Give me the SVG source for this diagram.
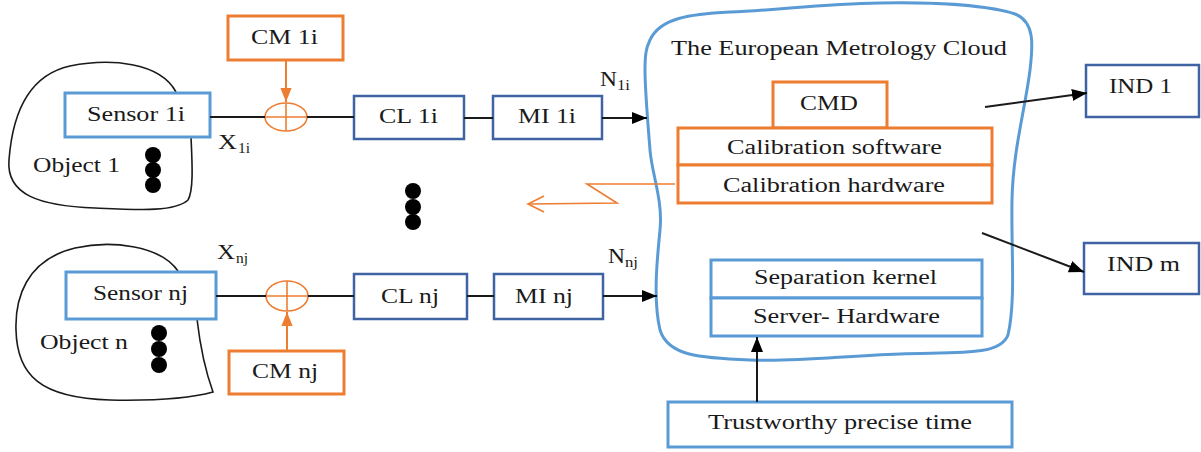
<svg xmlns="http://www.w3.org/2000/svg" width="1201" height="452" viewBox="0 0 1201 452">
<style>
.t{font-family:"Liberation Serif","Times New Roman",serif;font-size:20px;fill:#1a1a1a}
.s{font-family:"Liberation Serif","Times New Roman",serif;font-size:14px;fill:#1a1a1a}
.lb{fill:#fff;stroke:#5B9BD5;stroke-width:3}
.db{fill:#fff;stroke:#3F63A3;stroke-width:2.5}
.or{fill:#fff;stroke:#ED7D31;stroke-width:3}
.blob{fill:none;stroke:#1a1a1a;stroke-width:1.6}
.ln{fill:none;stroke:#1a1a1a;stroke-width:2}
.ol{fill:none;stroke:#ED7D31;stroke-width:1.6}
</style>
<defs>
<marker id="abk" viewBox="0 0 10 10" refX="10" refY="5" markerWidth="15" markerHeight="15" orient="auto" markerUnits="userSpaceOnUse">
<path d="M0,1 L10,5 L0,9 Z" fill="#000"/>
</marker>
<marker id="ao" viewBox="0 0 10 10" refX="10" refY="5" markerWidth="14" markerHeight="14" orient="auto" markerUnits="userSpaceOnUse">
<path d="M0,1 L10,5 L0,9 Z" fill="#ED7D31"/>
</marker>
</defs>

<g id="object1">
<path class="blob" d="M176,92 C160,62 110,58 70,66 C25,76 12,120 9,160 C6,195 40,206 95,208 C140,210 175,212 188,200 C194,190 192,160 191,137"/>
<text class="t" x="33" y="172" textLength="87" lengthAdjust="spacingAndGlyphs">Object 1</text>
<circle cx="153" cy="155" r="8" fill="#000"/>
<circle cx="153" cy="170" r="8" fill="#000"/>
<circle cx="153" cy="185" r="8" fill="#000"/>
</g>
<g id="objectn">
<path class="blob" d="M178,271 C160,245 110,240 75,248 C25,260 15,300 16,330 C17,375 40,398 110,400 C160,401 195,397 213,392 C205,370 200,345 197,319"/>
<text class="t" x="40" y="349" textLength="88" lengthAdjust="spacingAndGlyphs">Object n</text>
<circle cx="159" cy="333" r="8" fill="#000"/>
<circle cx="159" cy="349" r="8" fill="#000"/>
<circle cx="159" cy="365" r="8" fill="#000"/>
</g>

<g id="cloud">
<path fill="none" stroke="#5B9BD5" stroke-width="3" d="M650,40 C660,18 690,14 730,12 C780,10 820,4 880,3 C940,2 990,6 1015,14 C1035,22 1033,45 1030,70 C1025,110 1013,150 1012,200 C1011,250 1016,300 1008,335 C1000,356 960,352 900,354 C840,356 800,362 750,360 C700,358 668,356 660,330 C653,300 657,260 660,230 C663,200 652,175 650,150 C648,125 645,90 645,70 C645,55 646,48 650,40 Z"/>
<text class="t" x="671" y="55" textLength="336" lengthAdjust="spacingAndGlyphs">The European Metrology Cloud</text>
</g>

<g id="sensor1i"><rect class="lb" x="65" y="93" width="145" height="44"/><text class="t" x="87" y="121" textLength="98" lengthAdjust="spacingAndGlyphs">Sensor 1i</text></g>
<g id="cm1i"><rect class="or" x="228" y="16" width="115" height="44"/><text class="t" x="251" y="44" textLength="67" lengthAdjust="spacingAndGlyphs">CM 1i</text></g>
<g id="sum1"><ellipse class="ol" cx="286" cy="117" rx="21" ry="14"/><path class="ol" d="M265,117 H307 M286,103 V131"/></g>
<g id="cl1i"><rect class="db" x="354" y="96" width="110" height="43"/><text class="t" x="379" y="123" textLength="59" lengthAdjust="spacingAndGlyphs">CL 1i</text></g>
<g id="mi1i"><rect class="db" x="493" y="96" width="109" height="43"/><text class="t" x="518" y="123" textLength="58" lengthAdjust="spacingAndGlyphs">MI 1i</text></g>

<g id="sensornj"><rect class="lb" x="66" y="272" width="150" height="47"/><text class="t" x="93" y="300" textLength="95" lengthAdjust="spacingAndGlyphs">Sensor nj</text></g>
<g id="cmnj"><rect class="or" x="229" y="351" width="115" height="43"/><text class="t" x="252" y="378" textLength="66" lengthAdjust="spacingAndGlyphs">CM nj</text></g>
<g id="sumn"><ellipse class="ol" cx="287" cy="296" rx="21" ry="15"/><path class="ol" d="M266,296 H308 M287,281 V311"/></g>
<g id="clnj"><rect class="db" x="354" y="274" width="113" height="45"/><text class="t" x="381" y="303" textLength="58" lengthAdjust="spacingAndGlyphs">CL nj</text></g>
<g id="minj"><rect class="db" x="494" y="274" width="109" height="45"/><text class="t" x="515" y="303" textLength="58" lengthAdjust="spacingAndGlyphs">MI nj</text></g>

<g id="dots"><circle cx="413" cy="191" r="8" fill="#000"/><circle cx="413" cy="207" r="8" fill="#000"/><circle cx="413" cy="222" r="8" fill="#000"/></g>

<g id="cmd"><rect class="or" x="773" y="82" width="114" height="46"/><text class="t" x="800" y="110" textLength="58" lengthAdjust="spacingAndGlyphs">CMD</text></g>
<g id="calsw"><rect class="or" x="678" y="128" width="314" height="37"/><text class="t" x="727" y="154" textLength="215" lengthAdjust="spacingAndGlyphs">Calibration software</text></g>
<g id="calhw"><rect class="or" x="678" y="165" width="314" height="38"/><text class="t" x="723" y="192" textLength="222" lengthAdjust="spacingAndGlyphs">Calibration hardware</text></g>
<g id="sepk"><rect class="lb" x="711" y="260" width="271" height="38"/><text class="t" x="754" y="284" textLength="183" lengthAdjust="spacingAndGlyphs">Separation kernel</text></g>
<g id="serverhw"><rect class="lb" x="711" y="298" width="271" height="38"/><text class="t" x="753" y="323" textLength="187" lengthAdjust="spacingAndGlyphs">Server- Hardware</text></g>
<g id="time"><rect class="lb" x="668" y="402" width="344" height="45"/><text class="t" x="708" y="429" textLength="264" lengthAdjust="spacingAndGlyphs">Trustworthy precise time</text></g>
<g id="ind1"><rect class="db" x="1086" y="65" width="113" height="52"/><text class="t" x="1109" y="93" textLength="63" lengthAdjust="spacingAndGlyphs">IND 1</text></g>
<g id="indm"><rect class="db" x="1084" y="243" width="115" height="51"/><text class="t" x="1107" y="271" textLength="73" lengthAdjust="spacingAndGlyphs">IND m</text></g>

<g id="labels">
<text class="t" x="218" y="149" textLength="19" lengthAdjust="spacingAndGlyphs">X</text><text class="s" x="238" y="153" textLength="12" lengthAdjust="spacingAndGlyphs">1i</text>
<text class="t" x="217" y="259" textLength="18" lengthAdjust="spacingAndGlyphs">X</text><text class="s" x="236" y="263" textLength="12" lengthAdjust="spacingAndGlyphs">nj</text>
<text class="t" x="600" y="86" textLength="17" lengthAdjust="spacingAndGlyphs">N</text><text class="s" x="617" y="90" textLength="13" lengthAdjust="spacingAndGlyphs">1i</text>
<text class="t" x="608" y="263" textLength="17" lengthAdjust="spacingAndGlyphs">N</text><text class="s" x="625" y="267" textLength="13" lengthAdjust="spacingAndGlyphs">nj</text>
</g>

<g id="connectors">
<path class="ln" d="M210,117 H265"/>
<path class="ln" d="M307,117 H354"/>
<path class="ln" d="M464,118 H493"/>
<path class="ln" d="M602,118 H647" marker-end="url(#abk)"/>
<path class="ln" d="M216,296 H266"/>
<path class="ln" d="M308,296 H354"/>
<path class="ln" d="M467,296 H494"/>
<path class="ln" d="M603,296 H657" marker-end="url(#abk)"/>
<path fill="none" stroke="#ED7D31" stroke-width="2" d="M286,60 V102" marker-end="url(#ao)"/>
<path fill="none" stroke="#ED7D31" stroke-width="2" d="M287,351 V312" marker-end="url(#ao)"/>
<path class="ol" d="M675,184 H587 L617,203 L528,204"/>
<path class="ol" d="M544,196 L528,204 L544,212"/>
<path class="ln" d="M985,107 L1087,93" marker-end="url(#abk)"/>
<path class="ln" d="M982,233 L1084,272" marker-end="url(#abk)"/>
<path class="ln" d="M757,402 V337" marker-end="url(#abk)"/>
</g>
</svg>
